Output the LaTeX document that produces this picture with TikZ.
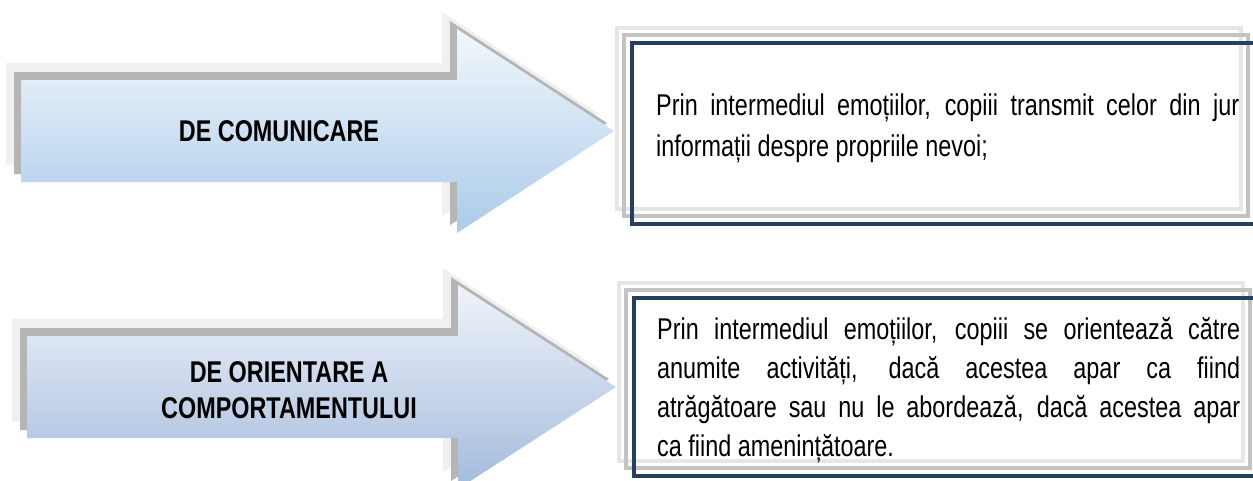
\documentclass[tikz,border=0pt]{standalone}
\usepackage{fontspec}
\setmainfont{Liberation Sans}[FakeStretch=0.78]
\definecolor{navy}{HTML}{243F60}
\definecolor{shdark}{HTML}{B5B5B5}
\definecolor{shlight}{HTML}{F0F0F0}
\definecolor{frdark}{HTML}{C3C3C3}
\definecolor{frlight}{HTML}{E6E6E6}
\definecolor{aoneTop}{HTML}{F3F7FC}
\definecolor{aoneBot}{HTML}{AACBE9}
\definecolor{atwoTop}{HTML}{F0F3FA}
\definecolor{atwoBot}{HTML}{A3BBDC}
% block arrow: #1 left edge, #2 head base, #3 tip, #4 centre line
\newcommand\blockarrow[4]{(#1,#4-51) -- (#2,#4-51) -- (#2,#4-102) -- (#3,#4)
  -- (#2,#4+102) -- (#2,#4+51) -- (#1,#4+51) -- cycle}
% framed text panel: #1 left, #2 top, #3 right, #4 bottom
\newcommand\panelframe[4]{(#1,#2) rectangle (#3,#4)}
\begin{document}
\begin{tikzpicture}[x=1pt,y=-1pt,
  shadefar/.style={fill=shlight},
  shadenear/.style={fill=shdark},
  framefar/.style={draw=frlight,line width=4pt},
  framenear/.style={draw=frdark,line width=4.5pt},
  framemain/.style={draw=navy,line width=4pt},
  arrowlabel/.style={inner sep=0pt,align=center,
    font=\fontsize{30}{36}\selectfont\bfseries},
  paneltext/.style={inner sep=0pt,anchor=north west,text width=583pt,align=justify,
    execute at begin node={\hyphenpenalty=10000\tolerance=10000\emergencystretch=0pt}}]
\useasboundingbox (0,0) rectangle (1253,480);
\fill[white] (0,0) rectangle (1253,480);

% ---- first row ----
\begin{scope}[shift={(-15,-17)}]
  \path[shadefar] \blockarrow{21}{457}{614}{131};
\end{scope}
\begin{scope}[shift={(-7,-8)}]
  \path[shadenear] \blockarrow{21}{457}{614}{131};
\end{scope}
\path[top color=aoneTop,bottom color=aoneBot] \blockarrow{21}{457}{614}{131};
\node[arrowlabel] (lab1) at (279,131) {DE COMUNICARE};

\draw[framefar]  \panelframe{617}{28}{1241}{209};
\draw[framenear] \panelframe{624}{35}{1248}{216};
\draw[framemain] \panelframe{632}{43}{1258}{224};
\node[paneltext,font=\fontsize{30}{41}\selectfont] (txt1) at (656,94)
  {Prin intermediul emoțiilor, copiii transmit celor din jur\linebreak
   informații despre propriile nevoi;};

% ---- second row ----
\begin{scope}[shift={(-15,-17)}]
  \path[shadefar] \blockarrow{27}{458}{616}{387};
\end{scope}
\begin{scope}[shift={(-7,-8)}]
  \path[shadenear] \blockarrow{27}{458}{616}{387};
\end{scope}
\path[top color=atwoTop,bottom color=atwoBot] \blockarrow{27}{458}{616}{387};
\node[arrowlabel] (lab2) at (289,390) {DE ORIENTARE A\\COMPORTAMENTULUI};

\draw[framefar]  \panelframe{619}{283}{1243}{461};
\draw[framenear] \panelframe{626}{290}{1250}{468};
\draw[framemain] \panelframe{634}{298}{1260}{476};
\node[paneltext,font=\fontsize{30}{39}\selectfont] (txt2) at (657,317)
  {Prin intermediul emoțiilor, copiii se orientează către\linebreak
   anumite activități, dacă acestea apar ca fiind\linebreak
   atrăgătoare sau nu le abordează, dacă acestea apar\linebreak
   ca fiind amenințătoare.};
\end{tikzpicture}
\end{document}
